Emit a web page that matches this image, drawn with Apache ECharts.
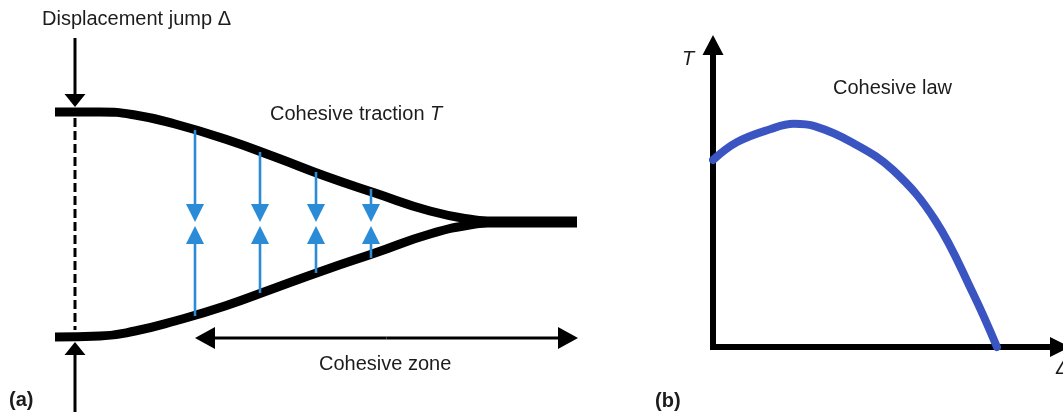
<!DOCTYPE html>
<html>
<head>
<meta charset="utf-8">
<script src="https://cdn.jsdelivr.net/npm/echarts@6/dist/echarts.min.js"></script>
<style>
  html, body { margin: 0; padding: 0; background: #ffffff; }
  #chart { width: 1063px; height: 412px; }
</style>
</head>
<body>
<div id="chart"></div>
<script>
// ---------- Panel (a): crack faces (x along crack, y opening; arbitrary units) ----------
const upperFaceX = [-20, 25, 60, 100, 150, 200, 250, 300, 355, 400, 425];
const upperFaceY = [110, 110, 107, 98, 83, 65, 46, 29, 11, 2, 0];
const lowerFaceX = [-20, 25, 60, 100, 150, 200, 250, 300, 355, 400, 425];
const lowerFaceY = [-115, -114, -109, -99, -84, -66, -48, -31, -12, -2, 0];
const closedTailX = [395, 502];
const closedTailY = [0, 0];

// cohesive traction arrows (blue): positions along crack, face ends, tips
const tractionX = [120, 185, 241, 296];
const tractionTopFrom = [92, 70, 50, 33];
const tractionBottomFrom = [-94, -71, -51, -36];
const tractionTopTip = 0;
const tractionBottomTip = -4;

// displacement jump reference line and arrows
const jumpLineX = [0, 0];
const jumpLineY = [104, -108];
const jumpArrowTop = [0, 184, 0, 115];      // tail x, tail y, tip x, tip y
const jumpArrowBottom = [0, -190, 0, -120];

// cohesive zone extent
const zoneY = -116;
const zoneStart = 120;
const zoneEnd = 503;

// ---------- Panel (b): cohesive law (normalised Delta, normalised T) ----------
const lawDelta = [0, 0.085, 0.201, 0.285, 0.36, 0.493, 0.634, 0.782, 0.915, 1.0];
const lawT     = [0.835, 0.915, 0.972, 0.996, 0.985, 0.911, 0.790, 0.567, 0.241, 0];

const zip = (a, b) => a.map((v, i) => [v, b[i]]);

function arrowRenderer(headLen, headWid, width, color) {
  return function (params, api) {
    const p1 = api.coord([api.value(0), api.value(1)]);
    const p2 = api.coord([api.value(2), api.value(3)]);
    const dx = p2[0] - p1[0], dy = p2[1] - p1[1];
    const L = Math.hypot(dx, dy) || 1;
    const ux = dx / L, uy = dy / L;
    const bx = p2[0] - ux * headLen, by = p2[1] - uy * headLen;
    const hw = headWid / 2;
    return {
      type: 'group',
      children: [
        { type: 'line', shape: { x1: p1[0], y1: p1[1], x2: bx + ux, y2: by + uy },
          style: { stroke: color, lineWidth: width } },
        { type: 'polygon', shape: { points: [[p2[0], p2[1]], [bx - uy * hw, by + ux * hw], [bx + uy * hw, by - ux * hw]] },
          style: { fill: color } }
      ]
    };
  };
}

const blueArrows = [];
tractionX.forEach((x, i) => {
  blueArrows.push([x, tractionTopFrom[i], x, tractionTopTip]);
  blueArrows.push([x, tractionBottomFrom[i], x, tractionBottomTip]);
});
const zoneMid = (zoneStart + zoneEnd) / 2;
const zoneArrows = [[zoneMid, zoneY, zoneStart, zoneY], [zoneMid, zoneY, zoneEnd, zoneY]];

const FONT = '"Liberation Sans", Arial, Helvetica, sans-serif';
const TXT = '#1c1c1c';
const chart = echarts.init(document.getElementById('chart'), null, { renderer: 'canvas' });

const hiddenAxis = { show: false, axisLine: { show: false }, axisTick: { show: false }, axisLabel: { show: false }, splitLine: { show: false } };

chart.setOption({
  backgroundColor: '#ffffff',
  animation: false,
  grid: [
    { left: 0, top: 0, width: 620, height: 412 },
    { left: 713, top: 45, width: 347, height: 302 }
  ],
  xAxis: [
    Object.assign({ type: 'value', gridIndex: 0, min: -75, max: 545 }, hiddenAxis),
    { type: 'value', gridIndex: 1, min: 0, max: 1.222,
      axisLine: { show: true, onZero: false, symbol: ['none', 'triangle'], symbolSize: [20, 20],
                  lineStyle: { color: '#000', width: 6, cap: 'square' } },
      axisTick: { show: false }, axisLabel: { show: false }, splitLine: { show: false } }
  ],
  yAxis: [
    Object.assign({ type: 'value', gridIndex: 0, min: -190, max: 222 }, hiddenAxis),
    { type: 'value', gridIndex: 1, min: 0, max: 1.348,
      axisLine: { show: true, onZero: false, symbol: ['none', 'triangle'], symbolSize: [21, 20],
                  lineStyle: { color: '#000', width: 6, cap: 'square' } },
      axisTick: { show: false }, axisLabel: { show: false }, splitLine: { show: false } }
  ],
  series: [
    { type: 'line', xAxisIndex: 0, yAxisIndex: 0, data: zip(jumpLineX, jumpLineY), showSymbol: false, symbol: 'none',
      lineStyle: { color: '#000', width: 3, type: [9, 4] }, z: 2 },
    { type: 'line', xAxisIndex: 0, yAxisIndex: 0, data: zip(upperFaceX, upperFaceY), smooth: 0.5,
      showSymbol: false, symbol: 'none', lineStyle: { color: '#000', width: 9 }, z: 3 },
    { type: 'line', xAxisIndex: 0, yAxisIndex: 0, data: zip(lowerFaceX, lowerFaceY), smooth: 0.5,
      showSymbol: false, symbol: 'none', lineStyle: { color: '#000', width: 9 }, z: 3 },
    { type: 'line', xAxisIndex: 0, yAxisIndex: 0, data: zip(closedTailX, closedTailY), showSymbol: false, symbol: 'none',
      lineStyle: { color: '#000', width: 11 }, z: 3 },
    { type: 'custom', xAxisIndex: 0, yAxisIndex: 0, data: blueArrows, encode: { x: [0, 2], y: [1, 3] },
      renderItem: arrowRenderer(18, 18, 2.6, '#2a8bd6'), z: 4 },
    { type: 'custom', xAxisIndex: 0, yAxisIndex: 0, data: [jumpArrowTop, jumpArrowBottom], encode: { x: [0, 2], y: [1, 3] },
      renderItem: arrowRenderer(13, 21, 3, '#000'), z: 5 },
    { type: 'custom', xAxisIndex: 0, yAxisIndex: 0, data: zoneArrows, encode: { x: [0, 2], y: [1, 3] },
      renderItem: arrowRenderer(20, 22, 3, '#000'), z: 5 },
    { type: 'line', xAxisIndex: 1, yAxisIndex: 1, data: zip(lawDelta, lawT), smooth: 0.4, showSymbol: false, symbol: 'none',
      clip: false, lineStyle: { color: '#3a55c2', width: 8, cap: 'round' }, z: 4 }
  ],
  graphic: [
    { type: 'text', left: 42, top: 9, style: { text: 'Displacement jump Δ', font: '20px ' + FONT, fill: TXT } },
    { type: 'text', left: 270, top: 104, style: { text: 'Cohesive traction {i|T}', font: '20px ' + FONT, fill: TXT,
        rich: { i: { fontStyle: 'italic', fontSize: 20, fontFamily: FONT, fill: TXT } } } },
    { type: 'text', left: 319, top: 354, style: { text: 'Cohesive zone', font: '20px ' + FONT, fill: TXT } },
    { type: 'text', left: 833, top: 78, style: { text: 'Cohesive law', font: '20px ' + FONT, fill: TXT } },
    { type: 'text', left: 682, top: 49, style: { text: 'T', font: 'italic 20px ' + FONT, fill: TXT } },
    { type: 'text', left: 1056, top: 358, style: { text: 'Δ', font: 'italic 20px ' + FONT, fill: TXT } },
    { type: 'text', left: 9, top: 390, style: { text: '(a)', font: 'bold 20px ' + FONT, fill: TXT } },
    { type: 'text', left: 655, top: 391, style: { text: '(b)', font: 'bold 20px ' + FONT, fill: TXT } }
  ]
});
</script>
</body>
</html>
